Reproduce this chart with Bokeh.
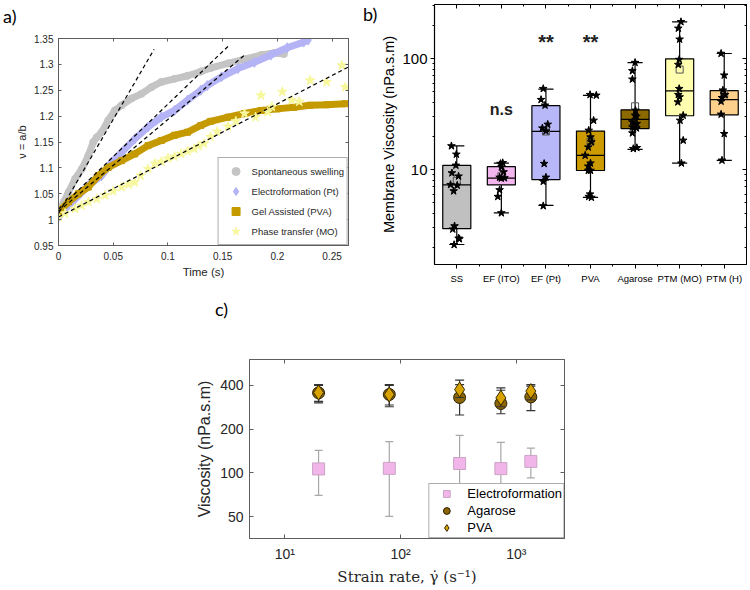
import math
from bokeh.plotting import figure
from bokeh.layouts import row, column
from bokeh.models import (Range1d, FixedTicker, LinearAxis, LogAxis, Legend, LegendItem,
                          CustomJSTickFormatter, Spacer, Div)
from bokeh.embed import file_html
from bokeh.resources import INLINE
from bokeh.core.properties import value

SANS = "Liberation Sans"
SERIF = "DejaVu Serif"
PANEL_FONT = "Lato"

# ---------------- panel a data ----------------
a_xticks = [0, 0.05, 0.1, 0.15, 0.2, 0.25]
a_yticks = [0.95, 1.0, 1.05, 1.1, 1.15, 1.2, 1.25, 1.3, 1.35]

ss_t = [0.0, 0.0015, 0.005, 0.0091, 0.0152, 0.0213, 0.0273, 0.0318, 0.0349, 0.0394, 0.0455,
        0.0515, 0.0576, 0.0667, 0.0758, 0.0849, 0.094, 0.106, 0.118, 0.130, 0.139, 0.155,
        0.170, 0.185, 0.197, 0.206]
ss_v = [1.012, 1.021, 1.035, 1.053, 1.079, 1.098, 1.124, 1.150, 1.159, 1.169, 1.192,
        1.211, 1.221, 1.234, 1.243, 1.256, 1.266, 1.272, 1.278, 1.286, 1.293, 1.302,
        1.310, 1.318, 1.322, 1.320]

ef_t = [0.0, 0.0061, 0.0152, 0.0273, 0.0394, 0.0485, 0.0576, 0.0697, 0.0818, 0.094, 0.106,
        0.118, 0.130, 0.136, 0.149, 0.164, 0.179, 0.194, 0.209, 0.224, 0.228]
ef_v = [1.005, 1.021, 1.040, 1.066, 1.085, 1.111, 1.130, 1.156, 1.179, 1.198, 1.211,
        1.231, 1.250, 1.259, 1.276, 1.292, 1.304, 1.318, 1.332, 1.343, 1.347]

pva_t = [0.0, 0.0091, 0.0182, 0.0273, 0.0364, 0.0455, 0.0576, 0.0697, 0.0818, 0.094, 0.106,
         0.118, 0.130, 0.139, 0.155, 0.170, 0.185, 0.200, 0.215, 0.230, 0.245, 0.262]
pva_v = [1.015, 1.034, 1.050, 1.063, 1.085, 1.101, 1.114, 1.127, 1.143, 1.153, 1.163,
         1.169, 1.182, 1.190, 1.198, 1.205, 1.211, 1.214, 1.217, 1.221, 1.222, 1.224]

mo_t = [0.0, 0.006, 0.0152, 0.021, 0.0273, 0.035, 0.0425, 0.050, 0.0576, 0.064, 0.0697,
        0.075, 0.0818, 0.088, 0.094, 0.100, 0.106, 0.112, 0.118, 0.124, 0.128, 0.133,
        0.139, 0.145, 0.155, 0.162, 0.170, 0.180, 0.185, 0.191, 0.195, 0.2045, 0.213,
        0.220, 0.230, 0.245, 0.259, 0.262]
mo_v = [1.005, 1.012, 1.021, 1.027, 1.034, 1.040, 1.047, 1.055, 1.063, 1.068, 1.072,
        1.085, 1.098, 1.108, 1.112, 1.118, 1.122, 1.127, 1.132, 1.137, 1.142, 1.147,
        1.160, 1.170, 1.180, 1.190, 1.205, 1.198, 1.240, 1.208, 1.218, 1.247, 1.231,
        1.228, 1.269, 1.266, 1.298, 1.256]

fit_t0 = [0.0, 0.0, 0.0, 0.0]
fit_v0 = [1.012, 1.020, 1.016, 1.005]
fit_t1 = [0.0873, 0.156, 0.170, 0.265]
fit_v1 = [1.329, 1.337, 1.318, 1.295]

# ---------------- panel b data ----------------
b_cats = ["SS", "EF (ITO)", "EF (Pt)", "PVA", "Agarose", "PTM (MO)", "PTM (H)"]
b_colors = ["#c0c0c0", "#f3b6ee", "#b8b8f8", "#cc9b00", "#8c6a00", "#ffffaf", "#fdd08c"]
b_q1 = [2.93, 7.27, 8.12, 9.8, 23.4, 30.5, 31.0]
b_med = [7.27, 8.35, 22.1, 13.4, 28.3, 51.0, 42.6]
b_q3 = [10.9, 10.6, 37.6, 22.2, 34.5, 99.4, 51.3]
b_wlo = [2.11, 4.06, 4.76, 5.6, 15.2, 11.4, 12.1]
b_whi = [16.3, 11.4, 52.9, 46.6, 91.9, 214.0, 111.0]
b_mean = [7.9, 8.7, 22.0, 17.9, 37.1, 79.5, 47.6]
b_star_off = [
    [-0.12, -0.01, -0.02, -0.11, 0.04, -0.14, 0.01, -0.07, -0.05, -0.09, 0.04, 0.06, -0.06],
    [-0.02, 0.03, 0.0, 0.05, -0.04, 0.07, 0.0, -0.04, -0.08, 0.0],
    [-0.06, -0.11, -0.02, -0.08, 0.04, 0.0, -0.04, 0.0, -0.06, -0.06],
    [-0.01, 0.13, 0.07, -0.04, 0.0, 0.02, -0.05, -0.12, 0.0, -0.05, -0.05, 0.0, -0.01, -0.04, 0.02],
    [0.0, -0.06, -0.06, 0.01, 0.0, 0.03, -0.06, 0.04, -0.06, 0.03, -0.06, -0.04, 0.04],
    [0.03, -0.03, 0.0, -0.01, -0.03, -0.01, -0.03, 0.0, -0.04, 0.08, 0.01, 0.08, 0.04],
    [-0.07, 0.0, -0.03, 0.02, -0.05, -0.07, -0.07, 0.0, -0.05],
]
b_star_val = [
    [16.3, 13.7, 10.9, 9.3, 8.7, 7.3, 7.2, 6.4, 3.1, 2.9, 2.4, 2.37, 2.1],
    [11.3, 11.5, 10.5, 9.5, 8.5, 8.4, 8.35, 6.55, 5.7, 4.06],
    [53.5, 42.6, 37.9, 23.6, 25.5, 22.2, 11.3, 8.5, 7.8, 4.7],
    [47.2, 46.6, 27.7, 22.5, 19.6, 17.7, 15.9, 13.4, 11.4, 10.7, 9.8, 9.8, 6.0, 5.7, 5.6],
    [91.9, 77.4, 65.0, 34.1, 30.7, 30.1, 26.8, 25.9, 24.1, 23.6, 21.3, 15.4, 15.7],
    [214.0, 187.0, 149.0, 97.9, 88.1, 53.5, 47.2, 45.0, 40.5, 30.7, 27.7, 18.3, 11.4],
    [111.0, 70.7, 51.8, 47.2, 44.3, 41.1, 31.4, 21.0, 12.1],
]
b_yticks = [10, 100]
b_yminor = [m * 10 ** e for e in (0, 1, 2) for m in range(2, 10)]
b_sig_text = ["n.s", "**", "**"]
b_sig_cat = [2, 3, 4]
b_sig_val = [34.7, 142.0, 142.0]

# ---------------- panel c data ----------------
c_rate = [19.6, 80.0, 324.0, 736.0, 1336.0]
c_ef = [106.5, 107.5, 116.0, 107.0, 120.0]
c_ef_lo = [70.0, 50.3, 75.0, 72.0, 92.4]
c_ef_hi = [143.0, 164.0, 181.0, 162.0, 148.0]
c_ag = [355.0, 346.0, 330.0, 300.0, 333.0]
c_ag_lo = [303.0, 285.0, 250.0, 255.0, 268.0]
c_ag_hi = [400.0, 400.0, 405.0, 370.0, 395.0]
c_pva = [357.0, 346.0, 374.0, 328.0, 365.0]
c_pva_lo = [310.0, 293.0, 330.0, 285.0, 318.0]
c_pva_hi = [405.0, 405.0, 434.0, 384.0, 405.0]
c_xticks = [10, 100, 1000]
c_yticks = [50, 100, 200, 400]

# ---------------- helpers ----------------
def blank():
    return CustomJSTickFormatter(code="return ''")


def mirror(p, side, ticker, color, tlen, mlen=0):
    ax = LinearAxis(ticker=ticker, formatter=blank(), major_tick_in=tlen, major_tick_out=0,
                    minor_tick_in=mlen, minor_tick_out=0, major_label_standoff=0,
                    major_label_text_font_size="1px", axis_line_color=color,
                    major_tick_line_color=color,
                    minor_tick_line_color=(color if mlen else None))
    p.add_layout(ax, side)


def style(ax, color, font_size, tick_in, tick_out, standoff, label_size, label_standoff,
          font=SANS, label_font=SANS, text_color="#262626"):
    ax.axis_line_color = color
    ax.major_tick_line_color = color
    ax.major_tick_in = tick_in
    ax.major_tick_out = tick_out
    ax.major_label_standoff = standoff
    ax.major_label_text_font = font
    ax.major_label_text_font_size = font_size
    ax.major_label_text_color = text_color
    ax.axis_label_text_font = label_font
    ax.axis_label_text_font_size = label_size
    ax.axis_label_text_font_style = "normal"
    ax.axis_label_text_color = text_color
    ax.axis_label_standoff = label_standoff


def panel_div(text, w, h, left, top):
    html = ('<div style="font-family:%s;font-size:18px;line-height:18px;color:black;'
            'margin:%dpx 0 0 %dpx;white-space:nowrap">%s</div>' % (PANEL_FONT, top, left, text))
    return Div(text=html, width=w, height=h, margin=0)


# ---------------- panel a ----------------
ML = "#5e5e5e"
pa = figure(width=362, height=258, output_backend="svg", toolbar_location=None,
            frame_align=False,
            x_range=Range1d(0, 0.265), y_range=Range1d(0.95, 1.35),
            min_border_left=58, min_border_right=14, min_border_top=8, min_border_bottom=43)
pa.grid.visible = False
pa.outline_line_color = ML
fmt2 = CustomJSTickFormatter(code="return String(+tick.toFixed(2))")
pa.xaxis.ticker = FixedTicker(ticks=a_xticks)
pa.yaxis.ticker = FixedTicker(ticks=a_yticks)
pa.xaxis.formatter = fmt2
pa.yaxis.formatter = fmt2
pa.xaxis.axis_label = "Time (s)"
pa.yaxis.axis_label = "ν = a/b"
style(pa.xaxis[0], ML, "10px", 3, 0, 6, "11.5px", 3)
style(pa.yaxis[0], ML, "10px", 3, 0, 5, "11px", 3)
pa.xaxis.minor_tick_line_color = None
pa.yaxis.minor_tick_line_color = None
mirror(pa, "above", FixedTicker(ticks=a_xticks), ML, 3)
mirror(pa, "right", FixedTicker(ticks=a_yticks), ML, 3)

pa.line(ss_t, ss_v, line_width=7, line_color="#c4c4c4")
r_ss = pa.scatter(ss_t, ss_v, marker="circle", size=7, fill_color="#c4c4c4", line_color="#c4c4c4")
pa.line(ef_t, ef_v, line_width=7, line_color="#b3b3f5")
r_ef = pa.scatter(ef_t, ef_v, marker="diamond", size=10, fill_color="#b3b3f5", line_color="#b3b3f5")
pa.line(pva_t, pva_v, line_width=7, line_color="#c49a00")
r_pva = pa.scatter(pva_t, pva_v, marker="square", size=6, fill_color="#c49a00", line_color="#c49a00")
r_mo = pa.scatter(mo_t, mo_v, marker="star", size=10, fill_color="#f7f79c", line_color="#f7f79c")
pa.segment(x0=fit_t0, y0=fit_v0, x1=fit_t1, y1=fit_v1, line_color="black", line_width=1.2,
           line_dash="4 3")

leg_a = Legend(items=[LegendItem(label="Spontaneous swelling", renderers=[r_ss]),
                      LegendItem(label="Electroformation (Pt)", renderers=[r_ef]),
                      LegendItem(label="Gel Assisted (PVA)", renderers=[r_pva]),
                      LegendItem(label="Phase transfer (MO)", renderers=[r_mo])],
               location="bottom_right", margin=0, padding=3, spacing=0,
               glyph_width=28, glyph_height=20, label_height=20, label_standoff=2,
               label_text_font=SANS, label_text_font_size="9.5px", label_text_color="#262626",
               border_line_color=ML, border_line_width=1, background_fill_color="white",
               background_fill_alpha=1)
pa.add_layout(leg_a)

# ---------------- panel b ----------------
pb = figure(width=370, height=288, output_backend="svg", toolbar_location=None,
            frame_align=False,
            y_axis_type="log", x_range=Range1d(0.5, 7.5), y_range=Range1d(1.394, 306.6),
            min_border_left=44, min_border_right=2, min_border_top=4, min_border_bottom=24)
pb.grid.visible = False
pb.outline_line_color = "black"
pos = list(range(1, len(b_cats) + 1))
xminor = [p + 0.5 for p in pos[:-1]]
pb.xaxis.ticker = FixedTicker(ticks=pos, minor_ticks=xminor)
pb.xaxis.formatter = CustomJSTickFormatter(args=dict(labels=b_cats),
                                           code="return labels[Math.round(tick)-1] || ''")
pb.yaxis.ticker = FixedTicker(ticks=b_yticks, minor_ticks=b_yminor)
pb.yaxis.formatter = CustomJSTickFormatter(code="return String(Math.round(tick))")
pb.yaxis.axis_label = "Membrane Viscosity (nPa.s.m)"
style(pb.xaxis[0], "black", "9.5px", 0, 4, 4, "10px", 2, text_color="black")
style(pb.yaxis[0], "black", "15px", 0, 4, 3, "14.5px", 2, text_color="black")
for ax in (pb.xaxis[0], pb.yaxis[0]):
    ax.minor_tick_in = 0
    ax.minor_tick_out = 2
    ax.minor_tick_line_color = "black"
    ax.axis_line_width = 1.2
mirror(pb, "above", FixedTicker(ticks=pos, minor_ticks=xminor), "black", 4, 2)
pb_right = LogAxis(ticker=FixedTicker(ticks=b_yticks, minor_ticks=b_yminor), formatter=blank(),
                   major_tick_in=4, major_tick_out=0, minor_tick_in=2, minor_tick_out=0,
                   major_label_standoff=0, major_label_text_font_size="1px",
                   axis_line_color="black", major_tick_line_color="black",
                   minor_tick_line_color="black")
pb.add_layout(pb_right, "right")

half_box = 0.315
half_cap = 0.17
pb.segment(x0=pos, x1=pos, y0=b_q3, y1=b_whi, line_color="black", line_width=1.2)
pb.segment(x0=pos, x1=pos, y0=b_q1, y1=b_wlo, line_color="black", line_width=1.2)
pb.segment(x0=[p - half_cap for p in pos], x1=[p + half_cap for p in pos], y0=b_whi, y1=b_whi,
           line_color="black", line_width=1.2)
pb.segment(x0=[p - half_cap for p in pos], x1=[p + half_cap for p in pos], y0=b_wlo, y1=b_wlo,
           line_color="black", line_width=1.2)
pb.vbar(x=pos, width=2 * half_box, top=b_q3, bottom=b_q1, fill_color=b_colors,
        line_color="black", line_width=1.2)
pb.segment(x0=[p - half_box for p in pos], x1=[p + half_box for p in pos], y0=b_med, y1=b_med,
           line_color="black", line_width=1.2)
pb.scatter(pos, b_mean, marker="square", size=7, fill_color=None, line_color="#555555",
           line_width=1)
sx = [i + 1 + o for i, offs in enumerate(b_star_off) for o in offs]
sy = [v for vals in b_star_val for v in vals]
pb.scatter(sx, sy, marker="star", size=8, fill_color="black", line_color="black")
pb.text(x=b_sig_cat[:1], y=b_sig_val[:1], text=b_sig_text[:1], text_align="center",
        text_baseline="middle", text_font=value(SANS), text_font_size="16px",
        text_font_style="bold", text_color="#222222")
pb.text(x=b_sig_cat[1:], y=b_sig_val[1:], text=b_sig_text[1:], text_align="center",
        text_baseline="middle", text_font=value(SANS), text_font_size="20px",
        text_font_style="bold", text_color="#222222")

# ---------------- panel c ----------------
pc = figure(width=470, height=270, output_backend="svg", toolbar_location=None,
            frame_align=False,
            x_axis_type="log", y_axis_type="log",
            x_range=Range1d(4.96, 2610), y_range=Range1d(35.4, 602),
            min_border_left=119, min_border_right=36, min_border_top=41, min_border_bottom=49)
pc.grid.visible = False
pc.outline_line_color = ML
pc.xaxis.ticker = FixedTicker(ticks=c_xticks)
pc.yaxis.ticker = FixedTicker(ticks=c_yticks)
pc.xaxis.formatter = CustomJSTickFormatter(
    code="const s='⁰¹²³⁴⁵⁶⁷⁸⁹'; const e=Math.round(Math.log10(tick));"
         "return '10'+String(e).split('').map(d=>s[+d]).join('');")
pc.yaxis.formatter = CustomJSTickFormatter(code="return String(Math.round(tick))")
pc.xaxis.axis_label = "Strain rate, γ̇ (s⁻¹)"
pc.yaxis.axis_label = "Viscosity (nPa.s.m)"
style(pc.xaxis[0], ML, "14px", 4, 0, 7, "15px", 3, label_font=SERIF)
style(pc.yaxis[0], ML, "14px", 4, 0, 6, "16px", 4)
pc.xaxis.minor_tick_line_color = None
pc.yaxis.minor_tick_line_color = None
mirror(pc, "above", FixedTicker(ticks=c_xticks), ML, 4)
mirror(pc, "right", FixedTicker(ticks=c_yticks), ML, 4)

pc.segment(x0=c_rate, x1=c_rate, y0=c_ef_lo, y1=c_ef_hi, line_color="#a8a8a8", line_width=1.2)
pc.scatter(c_rate, c_ef_lo, marker="dash", size=8, line_color="#a8a8a8", line_width=1.2)
pc.scatter(c_rate, c_ef_hi, marker="dash", size=8, line_color="#a8a8a8", line_width=1.2)
r_c_ef = pc.scatter(c_rate, c_ef, marker="square", size=12, fill_color="#f2b5e9",
                    line_color="#c9a3c4", line_width=1)
pc.segment(x0=c_rate, x1=c_rate, y0=c_ag_lo, y1=c_ag_hi, line_color="#333333", line_width=1.2)
pc.scatter(c_rate, c_ag_lo, marker="dash", size=9, line_color="#333333", line_width=1.2)
pc.scatter(c_rate, c_ag_hi, marker="dash", size=9, line_color="#333333", line_width=1.2)
r_c_ag = pc.scatter(c_rate, c_ag, marker="circle", size=12, fill_color="#8b6508",
                    line_color="#2a2000", line_width=1)
pc.segment(x0=c_rate, x1=c_rate, y0=c_pva_lo, y1=c_pva_hi, line_color="#333333", line_width=1.2)
pc.scatter(c_rate, c_pva_lo, marker="dash", size=9, line_color="#333333", line_width=1.2)
pc.scatter(c_rate, c_pva_hi, marker="dash", size=9, line_color="#333333", line_width=1.2)
r_c_pva = pc.scatter(c_rate, c_pva, marker="diamond", size=15, fill_color="#d8a300",
                     line_color="#3a2a00", line_width=1)

leg_c = Legend(items=[LegendItem(label="Electroformation", renderers=[r_c_ef]),
                      LegendItem(label="Agarose", renderers=[r_c_ag]),
                      LegendItem(label="PVA", renderers=[r_c_pva])],
               location="bottom_right", margin=0, padding=1, spacing=0,
               glyph_width=32, glyph_height=17, label_height=17, label_standoff=5,
               label_text_font=SANS, label_text_font_size="13px", label_text_color="black",
               border_line_color=ML, border_line_width=1, background_fill_color="white",
               background_fill_alpha=1)
pc.add_layout(leg_c)

div_a = panel_div("a)", 362, 30, 3, 7)
div_b = panel_div("b)", 16, 288, 1, 5)
div_c = panel_div("c)", 470, 30, 85, 12)

layout = column(row(column(div_a, pa), div_b, pb),
                row(Spacer(width=130, height=300), column(div_c, pc)))

with open("out.html", "w", encoding="utf-8") as f:
    f.write(file_html(layout, INLINE))
